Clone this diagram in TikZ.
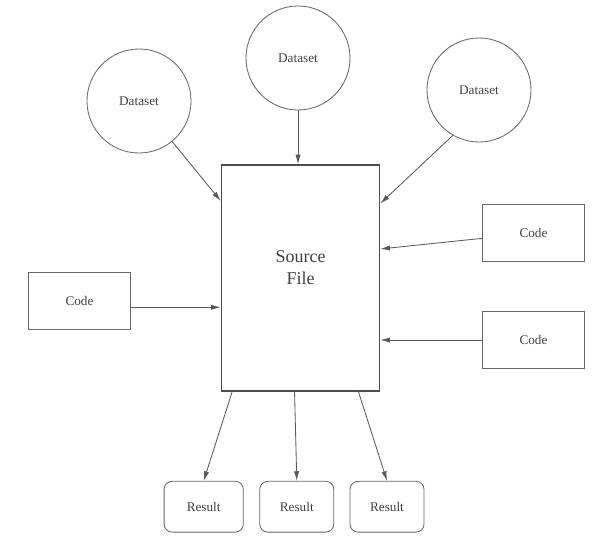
\documentclass[tikz,border=0pt]{standalone}
\usepackage{fontspec}
\setmainfont{Liberation Serif}
\usetikzlibrary{arrows.meta,positioning}

\begin{document}
\begin{tikzpicture}[x=0.025cm,y=-0.025cm]
\tikzstyle{dataset} = [
	shape=circle,
	draw=black!60, %grey outline
	line width=0.6pt,
	minimum size=2.6cm, %size of the circles
	inner sep=0pt,
	text=black!75,
	font=\fontsize{9.4}{11}\selectfont
];
\tikzstyle{codebox} = [
	shape=rectangle,
	draw=black!60,
	line width=0.6pt,
	minimum width=2.55cm,
	minimum height=1.41cm,
	inner sep=0pt,
	text=black!75,
	font=\fontsize{9.4}{11}\selectfont
];
\tikzstyle{resultbox} = [
	codebox,
	rounded corners=0.2cm,
	minimum width=1.85cm, %a bit narrower than the code boxes
	minimum height=1.27cm
];
\tikzstyle{srcbox} = [
	shape=rectangle,
	draw=black!70,
	line width=1.1pt,
	minimum width=3.95cm,
	minimum height=5.65cm,
	inner sep=0pt
];
\tikzstyle{feed} = [
	-{Latex[length=2.4mm,width=1.3mm]},
	draw=black!65,
	line width=0.6pt
];

\useasboundingbox (0,0) rectangle (610,552);

\begin{scope}
	\node[dataset](DSa) at (139, 101) {Dataset};
	\node[dataset](DSb) at (298, 58) {Dataset};
	\node[dataset](DSc) at (479, 90) {Dataset};
	\node[srcbox,label={[align=center,text=black!75,font=\fontsize{12.8}{15.6}\selectfont,yshift=0.27cm]center:Source\\File}](SRC) at (300.5, 278) {};
	\node[codebox](CodeL) at (79.5, 301) {Code};
	\node[codebox](CodeRa) at (533.5, 233) {Code};
	\node[codebox](CodeRb) at (533.5, 340) {Code};
	\node[resultbox,minimum width=1.98cm](Resa) at (203.7, 506.7) {Result};
	\node[resultbox](Resb) at (296.8, 506.7) {Result};
	\node[resultbox](Resc) at (387, 506.7) {Result};
\end{scope}

% inputs
\draw[feed] (DSa) -- (SRC.136);
\draw[feed] (DSb) -- (DSb |- SRC.north);
\draw[feed] (DSc.240) -- (SRC.43);
\draw[feed] (CodeL.-7) -- (CodeL.-7 -| SRC.west);
\draw[feed] (CodeRa) -- (SRC.20);
\draw[feed] (CodeRb) -- (CodeRb -| SRC.east);

% outputs
\draw[feed] (SRC.239) -- (Resa.north);
\draw[feed] (SRC.267) -- (Resb.north);
\draw[feed] (SRC.297) -- (Resc.north);

\end{tikzpicture}
\end{document}
